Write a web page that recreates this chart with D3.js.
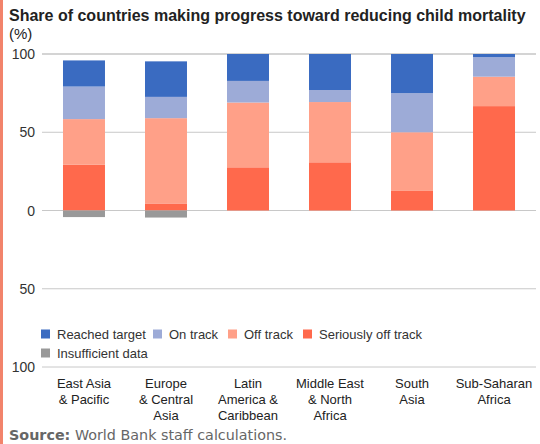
<!DOCTYPE html>
<html>
<head>
<meta charset="utf-8">
<script src="https://cdn.jsdelivr.net/npm/d3@7"></script>
<style>
	body { margin: 0; background: #fff; }
	text { font-family: "Liberation Sans", Arial, sans-serif; }
</style>
</head>
<body>
<div id="chart"></div>
<script>
// data
var regions = [
	["East Asia", "& Pacific"],
	["Europe", "& Central", "Asia"],
	["Latin", "America &", "Caribbean"],
	["Middle East", "& North", "Africa"],
	["South", "Asia"],
	["Sub-Saharan", "Africa"]
];
var seriouslyOff = [29.2, 4.5, 27.6, 30.8, 12.5, 66.7];
var offTrack     = [29.2, 54.5, 41.4, 38.5, 37.5, 18.8];
var onTrack      = [20.8, 13.6, 13.8, 7.7, 25.0, 12.5];
var reached      = [16.7, 22.7, 17.2, 23.0, 25.0, 2.0];
var insufficient = [4.2, 4.5, 0, 0, 0, 0];
var yTicks = [-100, -50, 0, 50, 100];

var seriesNames  = ["Reached target", "On track", "Off track", "Seriously off track", "Insufficient data"];
var seriesColors = ["#3a6bc1", "#9dabd7", "#ffa088", "#ff694c", "#999999"];

var width = 540,
	height = 444;

var svg = d3.select("#chart")
	.append("svg")
	.attr("width", width)
	.attr("height", height);

// left accent strip
svg.append("rect")
	.attr("x", 0).attr("y", 0)
	.attr("width", 3).attr("height", height)
	.attr("fill", "#f2836b");

// title
svg.append("text")
	.attr("x", 9).attr("y", 21)
	.style("font-size", "16px")
	.style("font-weight", "bold")
	.attr("fill", "#222")
	.text("Share of countries making progress toward reducing child mortality");
svg.append("text")
	.attr("x", 9).attr("y", 39)
	.style("font-size", "15px")
	.attr("fill", "#222")
	.text("(%)");

// scales
var x = d3.scaleBand()
	.domain(d3.range(regions.length))
	.range([42, 536])
	.paddingInner(0.488)
	.paddingOuter(0.256);
var y = d3.scaleLinear().domain([-100, 100]).range([367, 54]);

// grid
svg.append("g")
	.selectAll("line")
	.data(yTicks)
	.enter().append("line")
	.attr("x1", 42).attr("x2", 536)
	.attr("y1", function(d) { return y(d); })
	.attr("y2", function(d) { return y(d); })
	.attr("stroke", function(d) { return d == 100 ? "#d4d4d4" : "#c8c8c8"; })
	.attr("stroke-width", function(d) { return d == 100 ? 2 : 1; });

// y labels (negative side shown as positive)
svg.append("g")
	.selectAll("text")
	.data(yTicks)
	.enter().append("text")
	.attr("x", 35)
	.attr("y", function(d) { return y(d) + 5; })
	.style("text-anchor", "end")
	.style("font-size", "14px")
	.attr("fill", "#333")
	.text(function(d) { return Math.abs(d); });

// stacks
var stackData = regions.map(function(r, i) {
	return { i: i, reached: reached[i], onTrack: onTrack[i], offTrack: offTrack[i], seriouslyOff: seriouslyOff[i] };
});
var keys = ["seriouslyOff", "offTrack", "onTrack", "reached"];
var keyColors = [seriesColors[3], seriesColors[2], seriesColors[1], seriesColors[0]];
var stacked = d3.stack().keys(keys)(stackData);

svg.append("g")
	.selectAll("g")
	.data(stacked)
	.enter().append("g")
	.attr("fill", function(d, k) { return keyColors[k]; })
	.selectAll("rect")
	.data(function(d) { return d; })
	.enter().append("rect")
	.attr("x", function(d) { return x(d.data.i); })
	.attr("width", x.bandwidth())
	.attr("y", function(d) { return y(d[1]); })
	.attr("height", function(d) { return y(d[0]) - y(d[1]); });

// insufficient data below zero
svg.append("g")
	.selectAll("rect")
	.data(insufficient)
	.enter().append("rect")
	.attr("x", function(d, i) { return x(i); })
	.attr("width", x.bandwidth())
	.attr("y", y(0))
	.attr("height", function(d) { return y(-d) - y(0); })
	.attr("fill", seriesColors[4]);

// legend
var legendPos = [[41, 334], [153, 334], [228, 334], [303, 334], [41, 353]];
var legend = svg.append("g")
	.selectAll("g")
	.data(seriesNames)
	.enter().append("g")
	.attr("transform", function(d, i) { return "translate(" + legendPos[i][0] + "," + legendPos[i][1] + ")"; });
legend.append("rect")
	.attr("x", 0).attr("y", -4.5)
	.attr("width", 9).attr("height", 9)
	.attr("fill", function(d, i) { return seriesColors[i]; });
legend.append("text")
	.attr("x", 16).attr("y", 5)
	.style("font-size", "13px")
	.attr("fill", "#333")
	.text(function(d) { return d; });

// category labels
var cat = svg.append("g")
	.selectAll("text")
	.data(regions)
	.enter().append("text")
	.attr("x", function(d, i) { return x(i) + x.bandwidth() / 2; })
	.attr("y", 388)
	.style("text-anchor", "middle")
	.style("font-size", "13px")
	.attr("fill", "#222");
cat.selectAll("tspan")
	.data(function(d) { return d; })
	.enter().append("tspan")
	.attr("x", function() { return d3.select(this.parentNode).attr("x"); })
	.attr("dy", function(d, j) { return j == 0 ? 0 : 16; })
	.text(function(d) { return d; });

// source
var src = svg.append("text")
	.attr("x", 9).attr("y", 440)
	.style("font-family", "'DejaVu Sans', sans-serif")
	.style("font-size", "14px")
	.attr("fill", "#666")
	.attr("textLength", 278)
	.attr("lengthAdjust", "spacingAndGlyphs");
src.append("tspan").style("font-weight", "bold").text("Source:");
src.append("tspan").text(" World Bank staff calculations.");
</script>
</body>
</html>
